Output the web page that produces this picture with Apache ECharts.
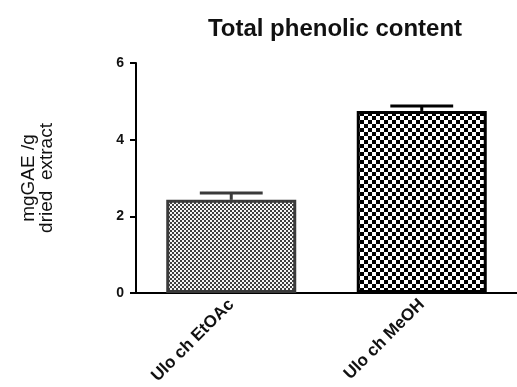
<!DOCTYPE html>
<html>
<head>
<meta charset="utf-8">
<script src="https://cdn.jsdelivr.net/npm/echarts@6/dist/echarts.min.js"></script>
<style>html,body{margin:0;padding:0;background:#fff;}#c{width:517px;height:387px;}</style>
</head>
<body>
<div id="c"></div>
<script>
var categories = ['Ulo ch EtOAc', 'Ulo ch MeOH'];
var means = [2.43, 4.75];
var errUpper = [2.61, 4.88];
var yTicks = [0, 2, 4, 6];

function checker(cell, dark, light) {
  var c = document.createElement('canvas');
  c.width = cell * 2; c.height = cell * 2;
  var g = c.getContext('2d');
  g.fillStyle = light; g.fillRect(0, 0, cell * 2, cell * 2);
  g.fillStyle = dark;
  g.fillRect(0, 0, cell, cell);
  g.fillRect(cell, cell, cell, cell);
  return c;
}
var pat1 = checker(2, '#404040', '#f6f6f6');
var pat2 = checker(4, '#000000', '#ffffff');
var borderColors = ['#3a3a3a', '#000000'];
var patterns = [pat1, pat2];

var FONT = '"Liberation Sans", Arial, sans-serif';
var chart = echarts.init(document.getElementById('c'), null, {renderer: 'canvas'});
chart.setOption({
  animation: false,
  backgroundColor: '#fff',
  title: {
    text: 'Total phenolic content',
    left: 330, top: 12, textAlign: 'center',
    textStyle: {fontFamily: FONT, fontSize: 24, fontWeight: 'bold', color: '#111'}
  },
  grid: {left: 136, top: 63, width: 382, height: 230, containLabel: false},
  xAxis: {
    type: 'category',
    data: categories,
    axisLine: {lineStyle: {color: '#000', width: 2}},
    axisTick: {alignWithLabel: true, length: 6, lineStyle: {color: '#000', width: 2}},
    axisLabel: {rotate: 45, margin: 9, fontFamily: FONT, fontSize: 17, fontWeight: 'bold', color: '#111', interval: 0}
  },
  yAxis: {
    type: 'value',
    min: yTicks[0], max: yTicks[yTicks.length - 1], interval: 2,
    name: 'mgGAE /g\ndried  extract',
    nameLocation: 'middle', nameRotate: 90, nameGap: 80,
    nameTextStyle: {fontFamily: FONT, fontSize: 19, color: '#111', lineHeight: 18},
    splitLine: {show: false},
    axisLine: {show: true, lineStyle: {color: '#000', width: 2}},
    axisTick: {show: true, length: 6, lineStyle: {color: '#000', width: 2}},
    axisLabel: {margin: 12, fontFamily: FONT, fontSize: 14, fontWeight: 'bold', color: '#111'}
  },
  series: [
    {
      type: 'bar',
      barWidth: 130,
      data: means.map(function (v, i) {
        return {value: v, itemStyle: {color: {image: patterns[i], repeat: 'repeat'}, borderColor: borderColors[i], borderWidth: 3}};
      }),
      z: 2
    },
    {
      type: 'custom',
      z: 1,
      data: categories.map(function (c, i) { return [i, means[i], errUpper[i]]; }),
      renderItem: function (params, api) {
        var i = api.value(0);
        var p0 = api.coord([i, api.value(1)]);
        var p1 = api.coord([i, api.value(2)]);
        var half = api.size([1, 0])[0] * 0.165;
        var col = borderColors[params.dataIndex];
        return {
          type: 'group',
          children: [
            {type: 'line', shape: {x1: p0[0], y1: p0[1], x2: p1[0], y2: p1[1]}, style: {stroke: col, lineWidth: 3}},
            {type: 'line', shape: {x1: p1[0] - half, y1: p1[1], x2: p1[0] + half, y2: p1[1]}, style: {stroke: col, lineWidth: 3}}
          ]
        };
      }
    }
  ]
});
</script>
</body>
</html>
